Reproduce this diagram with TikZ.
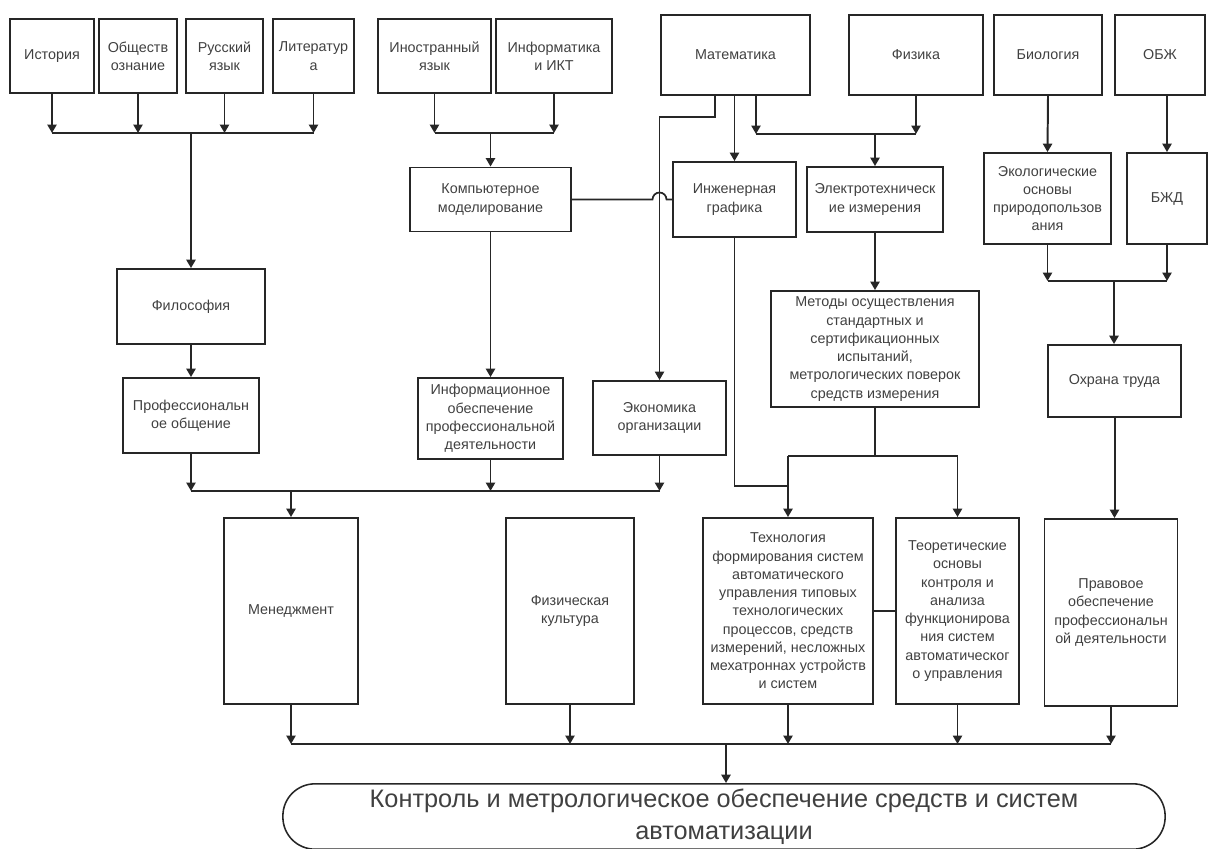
\documentclass[tikz,border=0pt]{standalone}
\usepackage{fontspec}
\setmainfont{Liberation Sans}
\usepackage{xcolor}
\definecolor{dLine}{HTML}{262626}
\definecolor{dText}{HTML}{404040}
\usepackage{tikz}
\usetikzlibrary{arrows.meta}

\begin{document}
\begin{tikzpicture}[
  x=0.025cm, y=-0.025cm,
  every node/.style={font=\fontsize{10.2}{13}\selectfont, text=dText},
  cell/.style={rectangle, draw=dLine, line width=1.3pt, inner sep=1pt, align=center},
  res/.style={rectangle, rounded corners=0.8cm, draw=dLine, line width=1.1pt,
              align=center, font=\fontsize{18}{23}\selectfont},
  arr/.style={draw=dLine, line width=1.4pt, -{Triangle[width=6.5pt,length=6pt]}},
  ln/.style={draw=dLine, line width=1.3pt}
]
\useasboundingbox (0,0) rectangle (1209,848);

\node[cell, minimum width=2.1cm,   minimum height=1.85cm] (hist)  at (52,56)    {История};
\node[cell, minimum width=1.95cm,  minimum height=1.85cm] (obsh)  at (138,56)   {Обществ\\ознание};
\node[cell, minimum width=1.925cm, minimum height=1.85cm] (rus)   at (224.5,56) {Русский\\язык};
\node[cell, minimum width=2.025cm, minimum height=1.85cm] (lit)   at (313.5,56) {Литератур\\а};
\node[cell, minimum width=2.825cm, minimum height=1.85cm] (inyaz) at (434.5,56) {Иностранный\\язык};
\node[cell, minimum width=2.9cm,   minimum height=1.85cm] (inf)   at (554,56)   {Информатика\\и ИКТ};
\node[cell, minimum width=3.725cm, minimum height=2.0cm]  (mat)   at (735.5,55) {Математика};
\node[cell, minimum width=3.35cm,  minimum height=2.0cm]  (fiz)   at (916,55)   {Физика};
\node[cell, minimum width=2.7cm,   minimum height=2.0cm]  (bio)   at (1048,55)  {Биология};
\node[cell, minimum width=2.25cm,  minimum height=2.0cm]  (obzh)  at (1160,55)  {ОБЖ};

\node[cell, minimum width=4.025cm, minimum height=1.6cm]   (komp)  at (490.5,199.5) {Компьютерное\\моделирование};
\node[cell, minimum width=3.075cm, minimum height=1.875cm] (inzh)  at (734.5,199.5) {Инженерная\\графика};
\node[cell, minimum width=3.4cm,   minimum height=1.625cm] (elek)  at (875,199.5)   {Электротехническ\\ие измерения};
\node[cell, minimum width=3.175cm, minimum height=2.275cm] (eko)   at (1047.5,198.5) {Экологические\\основы\\природопользов\\ания};
\node[cell, minimum width=2.0cm,   minimum height=2.275cm] (bzhd)  at (1167,198.5)  {БЖД};

\node[cell, minimum width=3.7cm,   minimum height=1.875cm] (filos) at (191,306.5)   {Философия};
\node[cell, minimum width=3.4cm,   minimum height=1.875cm] (prof)  at (191,415.5)   {Профессиональн\\ое общение};
\node[cell, minimum width=3.625cm, minimum height=2.025cm] (infob) at (490.5,418.5) {Информационное\\обеспечение\\профессиональной\\деятельности};
\node[cell, minimum width=3.325cm, minimum height=1.85cm]  (ekon)  at (659.5,418)   {Экономика\\организации};
\node[cell, minimum width=5.2cm,   minimum height=2.9cm]   (metod) at (875,349)     {Методы осуществления\\стандартных и\\сертификационных\\испытаний,\\метрологических поверок\\средств измерения};
\node[cell, minimum width=3.325cm, minimum height=1.8cm]   (ohr)   at (1114.5,381)  {Охрана труда};

\node[cell, minimum width=3.35cm,  minimum height=4.65cm] (men)  at (291,611)    {Менеджмент};
\node[cell, minimum width=3.2cm,   minimum height=4.65cm] (fizk) at (570,611)    {Физическая\\культура};
\node[cell, minimum width=4.25cm,  minimum height=4.65cm] (tech) at (788,611)    {Технология\\формирования систем\\автоматического\\управления типовых\\технологических\\процессов, средств\\измерений, несложных\\мехатроннах устройств\\и систем};
\node[cell, minimum width=3.075cm, minimum height=4.65cm] (teor) at (957.5,611)  {Теоретические\\основы\\контроля и\\анализа\\функционирова\\ния систем\\автоматическог\\о управления};
\node[cell, minimum width=3.325cm, minimum height=4.675cm] (prav) at (1111,612.5) {Правовое\\обеспечение\\профессиональн\\ой деятельности};

\node[res, minimum width=22.05cm, minimum height=1.625cm] (final) at (724,816.5) {Контроль и метрологическое обеспечение средств и систем\\автоматизации};

\coordinate (b1) at (191,133);
\foreach \n in {hist,obsh,rus,lit} \draw[arr] (\n.south) -- (\n.south |- b1);
\draw[ln] (hist.south |- b1) -- (lit.south |- b1);
\draw[arr, line width=2pt] (b1) -- (filos.north);
\draw[arr] (filos.south) -- (prof.north);

\coordinate (b2) at (490.5,133);
\foreach \n in {inyaz,inf} \draw[arr] (\n.south) -- (\n.south |- b2);
\draw[ln] (inyaz.south |- b2) -- (inf.south |- b2);
\draw[arr] (b2) -- (komp.north);
\draw[arr] (komp.south) -- (infob.north);

\coordinate (m1) at (715,117);
\coordinate (m2) at (756,134);
\coordinate (b3) at (875,134);
\coordinate (hop) at (komp.east -| ekon.north);
\draw[arr, line width=1.2pt] (mat.south -| m1) -- (m1) -- (m1 -| ekon.north) -- (ekon.north);
\draw[arr] (mat.south -| inzh.north) -- (inzh.north);
\draw[arr] (mat.south -| m2) -- (m2);
\draw[arr] (fiz.south) -- (fiz.south |- b3);
\draw[ln] (m2) -- (fiz.south |- b3);
\draw[arr] (b3) -- (elek.north);
\draw[ln, line width=1.2pt] (komp.east) -- ([xshift=-0.175cm]hop)
  arc[start angle=180, end angle=0, radius=0.175cm] -- (inzh.west);
\draw[arr] (elek.south) -- (metod.north);

\coordinate (b4) at (291,491);
\foreach \n in {prof,infob,ekon} \draw[arr] (\n.south) -- (\n.south |- b4);
\draw[ln] (prof.south |- b4) -- (ekon.south |- b4);
\draw[arr] (b4) -- (men.north);

\coordinate (b5) at (875,456);
\coordinate (b6) at (735,486);
\draw[ln] (metod.south) -- (b5);
\draw[ln] (tech.north |- b5) -- (teor.north |- b5);
\draw[arr] (tech.north |- b5) -- (tech.north);
\draw[arr] (teor.north |- b5) -- (teor.north);
\draw[ln, line width=1.2pt] (inzh.south) -- (inzh.south |- b6) -- (tech.north |- b6);
\draw[ln, line width=1.2pt] (tech.east) -- (teor.west);

\coordinate (b7) at (1114,281);
\draw[arr] (bio.south) -- (eko.north);
\draw[arr] (obzh.south -| bzhd.north) -- (bzhd.north);
\foreach \n in {eko,bzhd} \draw[arr] (\n.south) -- (\n.south |- b7);
\draw[ln] (eko.south |- b7) -- (bzhd.south |- b7);
\draw[arr, line width=1.8pt] (b7) -- (b7 |- ohr.north);
\draw[arr] (ohr.south) -- (ohr.south |- prav.north);

\coordinate (b8) at (726,744);
\foreach \n in {men,fizk,tech,teor,prav} \draw[arr] (\n.south) -- (\n.south |- b8);
\draw[ln] (men.south |- b8) -- (prav.south |- b8);
\draw[arr, line width=2pt] (b8) -- (b8 |- final.north);
\end{tikzpicture}
\end{document}
